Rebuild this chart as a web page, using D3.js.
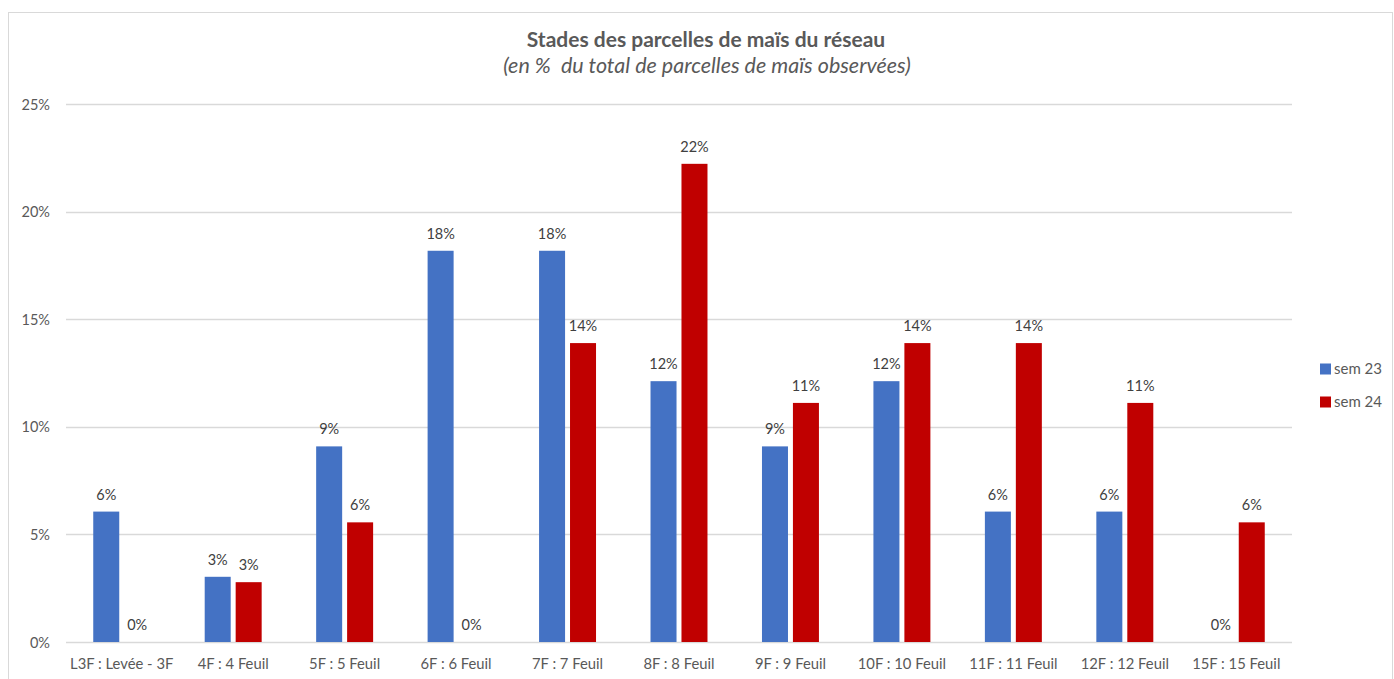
<!DOCTYPE html>
<html>
<head>
<meta charset="utf-8">
<script src="https://cdn.jsdelivr.net/npm/d3@7"></script>
<style>
  body { margin: 0; background: #fff; }
  text { font-family: Lato, "Open Sans", sans-serif; }
</style>
</head>
<body>
<svg id="chart"></svg>
<script>
const categories = [
  "L3F : Levée - 3F", "4F : 4 Feuil", "5F : 5 Feuil", "6F : 6 Feuil",
  "7F : 7 Feuil", "8F : 8 Feuil", "9F : 9 Feuil", "10F : 10 Feuil",
  "11F : 11 Feuil", "12F : 12 Feuil", "15F : 15 Feuil"
];
const seriesNames = ["sem 23", "sem 24"];
const sem23 = [6.06, 3.03, 9.09, 18.18, 18.18, 12.12, 9.09, 12.12, 6.06, 6.06, 0];
const sem24 = [0, 2.78, 5.56, 0, 13.89, 22.22, 11.11, 13.89, 13.89, 11.11, 5.56];
const yTicks = [0, 5, 10, 15, 20, 25];
const colors = ["#4472c4", "#c00000"];

const width = 1394, height = 679;
const svg = d3.select("#chart").attr("width", width).attr("height", height);

// chart frame
svg.append("rect")
  .attr("x", 8.5).attr("y", 12.5)
  .attr("width", width - 10).attr("height", height)
  .attr("fill", "#fff").attr("stroke", "#d9d9d9");

const plot = { left: 66, right: 1292, top: 104, bottom: 642 };

const x0 = d3.scaleBand().domain(categories).range([plot.left, plot.right]);
const x1 = d3.scaleBand().domain(seriesNames)
  .range([0, x0.bandwidth()]).paddingInner(0.16).paddingOuter(0.88);
const y = d3.scaleLinear().domain([0, 25]).range([plot.bottom, plot.top]);

// gridlines
svg.append("g").selectAll("line").data(yTicks).join("line")
  .attr("x1", plot.left).attr("x2", plot.right)
  .attr("y1", d => Math.round(y(d)) + 0.5).attr("y2", d => Math.round(y(d)) + 0.5)
  .attr("stroke", "#d9d9d9").attr("stroke-width", 1.3);

// y tick labels
svg.append("g").selectAll("text").data(yTicks).join("text")
  .attr("x", 50).attr("y", d => y(d) + 5.5)
  .attr("text-anchor", "end").attr("font-size", 14.5).attr("fill", "#595959")
  .text(d => d + "%");

// x labels
svg.append("g").selectAll("text").data(categories).join("text")
  .attr("x", d => x0(d) + x0.bandwidth() / 2).attr("y", 669)
  .attr("text-anchor", "middle").attr("font-size", 14.8).attr("fill", "#595959")
  .text(d => d);

const data = [sem23, sem24];
seriesNames.forEach((s, si) => {
  const g = svg.append("g");
  g.selectAll("rect").data(data[si]).join("rect")
    .attr("x", (d, i) => x0(categories[i]) + x1(s))
    .attr("y", d => y(d))
    .attr("width", x1.bandwidth())
    .attr("height", d => y(0) - y(d))
    .attr("fill", colors[si]);
  g.selectAll("text").data(data[si]).join("text")
    .attr("x", (d, i) => x0(categories[i]) + x1(s) + x1.bandwidth() / 2)
    .attr("y", d => y(d) - 12)
    .attr("text-anchor", "middle").attr("font-size", 14.5).attr("fill", "#404040")
    .text(d => Math.round(d) + "%");
});

// title
svg.append("text")
  .attr("x", 706).attr("y", 47)
  .attr("text-anchor", "middle").attr("font-size", 21).attr("font-weight", "bold")
  .attr("fill", "#595959")
  .text("Stades des parcelles de maïs du réseau");
svg.append("text")
  .attr("x", 707).attr("y", 73)
  .attr("text-anchor", "middle").attr("font-size", 21.5).attr("font-style", "italic")
  .attr("fill", "#595959")
  .attr("xml:space", "preserve")
  .text("(en %  du total de parcelles de maïs observées)");

// legend
const legend = svg.append("g");
seriesNames.forEach((s, i) => {
  const ly = 369 + i * 33;
  legend.append("rect")
    .attr("x", 1320).attr("y", ly - 5.5).attr("width", 11).attr("height", 11)
    .attr("fill", colors[i]);
  legend.append("text")
    .attr("x", 1334).attr("y", ly + 5)
    .attr("font-size", 15).attr("fill", "#595959")
    .text(s);
});
</script>
</body>
</html>
